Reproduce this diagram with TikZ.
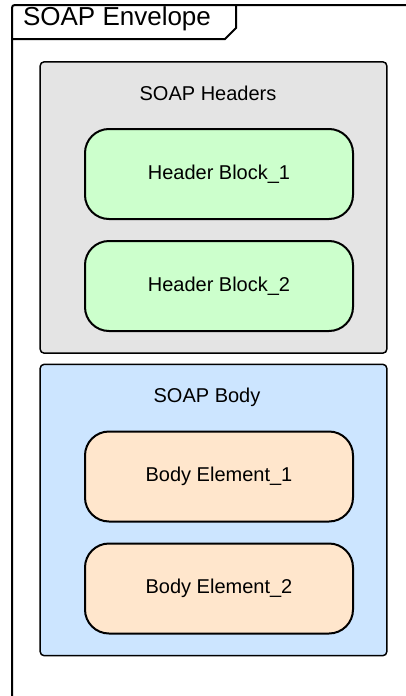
\documentclass[tikz,border=0pt]{standalone}
\usepackage{fontspec}
\setmainfont{Liberation Sans}
\definecolor{hdrgray}{HTML}{E4E4E4}
\definecolor{bodyblue}{HTML}{CCE5FF}
\definecolor{hdrgreen}{HTML}{CCFFCC}
\definecolor{bodypeach}{HTML}{FFE6CC}

\begin{document}
\begin{tikzpicture}[x=0.75pt,y=-0.75pt,node distance=84pt,
    container/.style={draw,line width=1.1pt,rounded corners=3pt,minimum width=260pt,minimum height=218.5pt},
    block/.style={draw,line width=1.5pt,rounded corners=18pt,minimum width=201pt,minimum height=67.5pt,font=\fontsize{15}{18}\selectfont},
    caption/.style={font=\fontsize{15}{18}\selectfont}]
    \useasboundingbox (0,0) rectangle (406,696);
    \clip (0,0) rectangle (406,696);

    % envelope frame and its tab
    \draw[line width=1.5pt,rounded corners=2pt] (12,720) -- (12,5) -- (420,5);
    \draw[line width=1.5pt] (12,39) -- (225,39) -- (236,28) -- (236,5);
    \node[font=\fontsize{19.5}{22}\selectfont] (envtitle) at (117,19) {SOAP Envelope};

    % headers
    \node[container,fill=hdrgray] (headers) at (213.5,207.5) {};
    \node[caption] (hdrtitle) at (208,93) {SOAP Headers};
    \node[block,fill=hdrgreen] (hb1) at (219,174) {Header Block\_1};
    \node[block,fill=hdrgreen] (hb2) [below of=hb1] {Header Block\_2};

    % body
    \node[container,fill=bodyblue] (body) at (213.5,510) {};
    \node[caption] (bodytitle) at (207,397) {SOAP Body};
    \node[block,fill=bodypeach] (be1) at (219,476.5) {Body Element\_1};
    \node[block,fill=bodypeach] (be2) [below of=be1] {Body Element\_2};
\end{tikzpicture}
\end{document}
